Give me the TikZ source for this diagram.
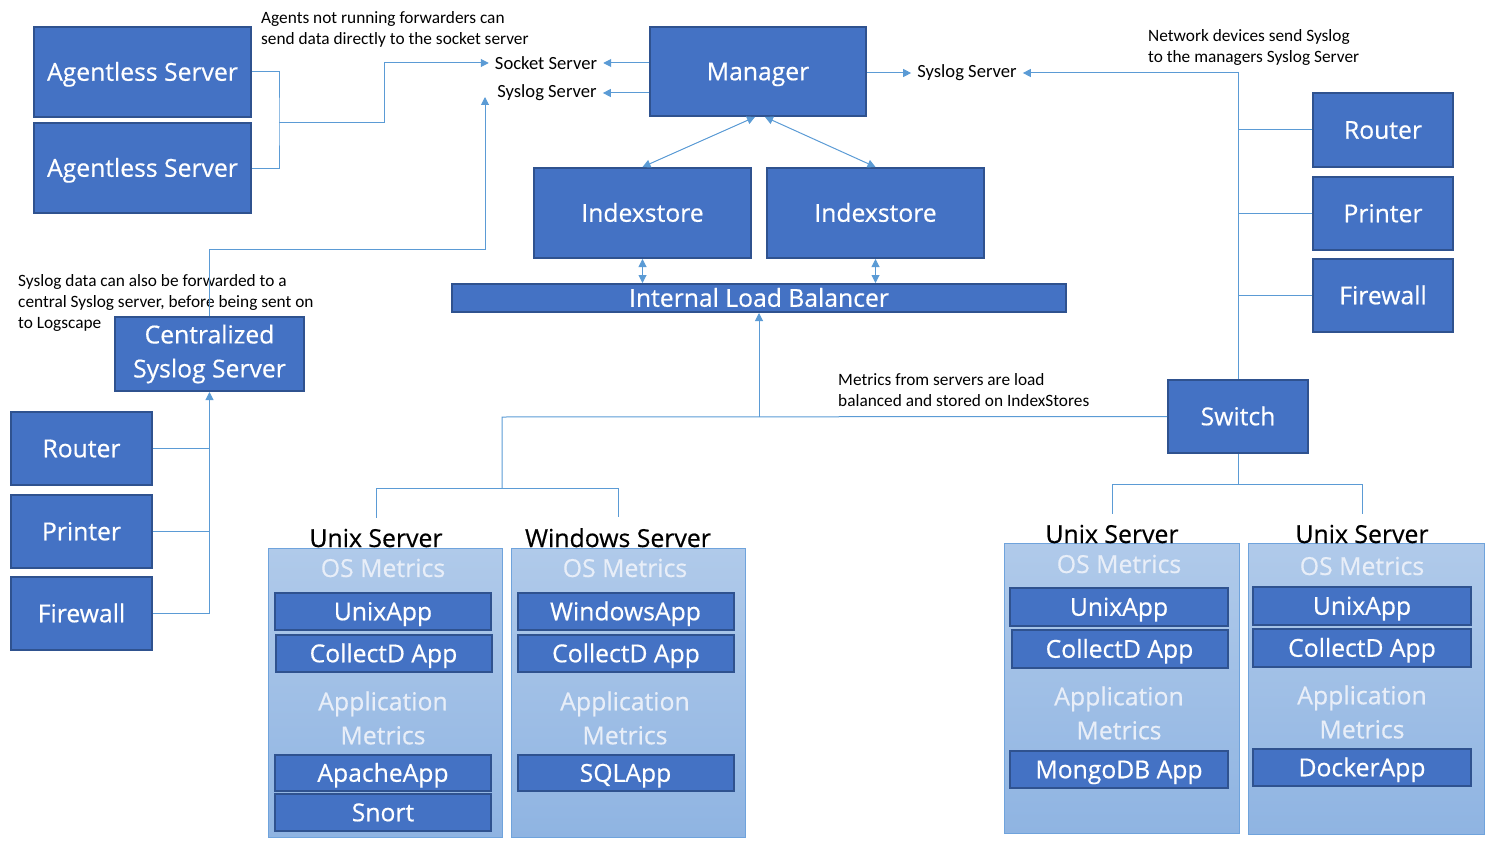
\documentclass[tikz,border=0pt]{standalone}
\usepackage{fontspec}
\setmainfont{Open Sans}
\newfontfamily\boxfont{Open Sans}[FakeBold=0.5]
\newfontfamily\notefont{Carlito}
\usetikzlibrary{arrows.meta}
\definecolor{boxfill}{HTML}{4472C4}
\definecolor{boxline}{HTML}{2F528F}
\definecolor{linkcol}{HTML}{5B9BD5}
\definecolor{paneltop}{HTML}{B0CAEA}
\definecolor{panelbot}{HTML}{8FB4E2}
\definecolor{panelline}{HTML}{6FA3DC}
\definecolor{softtext}{HTML}{E8EEF8}

\begin{document}
\begin{tikzpicture}[x=1pt,y=-1pt,
  boxbase/.style={draw=boxline,fill=boxfill,line width=2pt,text=white,
    font=\boxfont\fontsize{24.7}{34}\selectfont,inner sep=0pt},
  blk/.style={boxbase,text height=19pt,text depth=1.5pt},
  app/.style={blk,minimum width=216pt,minimum height=37pt},
  panel/.style={draw=panelline,line width=1pt,top color=paneltop,bottom color=panelbot},
  srvlabel/.style={anchor=base,font=\boxfont\fontsize{24.8}{30}\selectfont,inner sep=0pt},
  soft/.style={text=softtext,font=\boxfont\fontsize{24.8}{34}\selectfont,align=center,inner sep=0pt},
  note/.style={font=\notefont\fontsize{17.3}{21}\selectfont,align=left,anchor=west,inner sep=0pt},
  lbl/.style={font=\notefont\fontsize{18.6}{22}\selectfont,inner sep=6pt},
  link/.style={draw=linkcol,line width=1pt},
  arr/.style={link,-{Triangle[length=8pt,width=8pt]}},
  dbl/.style={link,{Triangle[length=8pt,width=8pt]}-{Triangle[length=8pt,width=8pt]}}]
\useasboundingbox (0,0) rectangle (1507,848);

\node[blk,minimum width=217pt,minimum height=90pt] (agent1) at (142.5,72) {Agentless Server};
\node[blk,minimum width=217pt,minimum height=90pt] (agent2) at (142.5,168) {Agentless Server};
\node[blk,minimum width=216pt,minimum height=89pt] (manager) at (758,71.5) {Manager};
\node[blk,minimum width=217pt,minimum height=90pt] (idx1) at (642.5,213) {Indexstore};
\node[blk,minimum width=217pt,minimum height=90pt] (idx2) at (875.5,213) {Indexstore};
\node[blk,minimum width=614pt,minimum height=28pt] (ilb) at (759,298) {Internal Load Balancer};
\node[blk,minimum width=140pt,minimum height=74pt] (rrouter) at (1383,130) {Router};
\node[blk,minimum width=140pt,minimum height=73pt] (rprinter) at (1383,213.5) {Printer};
\node[blk,minimum width=140pt,minimum height=73pt] (rfirewall) at (1383,295.5) {Firewall};
\node[blk,minimum width=140pt,minimum height=73pt] (switch) at (1238,416.5) {Switch};
\node[boxbase,minimum width=189pt,minimum height=74pt,align=center] (css) at (209.5,354) {Centralized\\Syslog Server};
\node[blk,minimum width=141pt,minimum height=73pt] (lrouter) at (81.5,448.5) {Router};
\node[blk,minimum width=141pt,minimum height=73pt] (lprinter) at (81.5,531.5) {Printer};
\node[blk,minimum width=141pt,minimum height=73pt] (lfirewall) at (81.5,613.5) {Firewall};

\node[lbl] (socket) at (546,63) {Socket Server};
\node[lbl] (syslogl) at (547,93) {Syslog Server};
\node[lbl] (syslogr) at (967,73) {Syslog Server};

\node[note] (agentnote) at (261,29) {Agents not running forwarders can\\send data directly to the socket server};
\node[note] (netnote) at (1148,47) {Network devices send Syslog\\to the managers Syslog Server};
\node[note] (sysnote) at (18,303) {Syslog data can also be forwarded to a\\central Syslog server, before being sent on\\to Logscape};
\node[note] (metricnote) at (838,390) {Metrics from servers are load\\balanced and stored on IndexStores};

\node[panel,minimum width=234pt,minimum height=289pt] (pan1) at (385,692.5) {};
\node[panel,minimum width=234pt,minimum height=289pt] (pan2) at (628,692.5) {};
\node[panel,minimum width=235pt,minimum height=290pt] (pan3) at (1121.5,688) {};
\node[panel,minimum width=236pt,minimum height=291pt] (pan4) at (1366,688.5) {};

\node[srvlabel] (u1lab) at (376,547) {Unix Server};
\node[srvlabel] (winlab) at (618,547) {Windows Server};
\node[srvlabel] (u3lab) at (1112,543) {Unix Server};
\node[srvlabel] (u4lab) at (1362,543) {Unix Server};

\node[soft] (os1) at (383,568) {OS Metrics};
\node[app] (unixapp1) at (383,611.5) {UnixApp};
\node[app] (collectd1) at (383.5,653.5) {CollectD App};
\node[soft] (am1) at (383,718) {Application\\Metrics};
\node[app,minimum height=36pt] (apache) at (383,773) {ApacheApp};
\node[app] (snort) at (383,812.5) {Snort};

\node[soft] (os2) at (625,568) {OS Metrics};
\node[app] (winapp) at (625.5,611.5) {WindowsApp};
\node[app] (collectd2) at (626,653.5) {CollectD App};
\node[soft] (am2) at (625,718) {Application\\Metrics};
\node[app,minimum height=36pt] (sqlapp) at (625.5,773) {SQLApp};

\node[soft] (os3) at (1119,564) {OS Metrics};
\node[app,minimum width=218pt,minimum height=38pt] (unixapp3) at (1119,607) {UnixApp};
\node[app,minimum height=38pt] (collectd3) at (1119.5,649) {CollectD App};
\node[soft] (am3) at (1119,713) {Application\\Metrics};
\node[app,minimum width=218pt] (mongo) at (1119,769.5) {MongoDB App};

\node[soft] (os4) at (1362,566) {OS Metrics};
\node[app,minimum width=218pt,minimum height=38pt] (unixapp4) at (1362,606) {UnixApp};
\node[app,minimum width=218pt,minimum height=38pt] (collectd4) at (1362,648) {CollectD App};
\node[soft] (am4) at (1362,712) {Application\\Metrics};
\node[app,minimum width=218pt] (docker) at (1362,767.5) {DockerApp};

\coordinate (agentjoin) at (279,123);
\coordinate (sysin) at (485,97);
\coordinate (lbus) at (502,417);
\coordinate (lfork) at (502,488);
\coordinate (rfork) at (1238,484);

\draw[link] (agent1.east) -| (agentjoin) |- (agent2.east);
\draw[arr] (agentjoin) -- ++(105,0) |- (socket.west);
\draw[arr] (manager.west |- socket) -- (socket.east);
\draw[arr] (manager.west |- syslogl) -- (syslogl.east);
\draw[arr] (manager.east |- syslogr) -- (syslogr.west);
\draw[arr] (switch.north) -- (switch.north |- syslogr) -- (syslogr.east);
\draw[link] (rrouter.west) -- (rrouter.west -| switch.north);
\draw[link] (rprinter.west) -- (rprinter.west -| switch.north);
\draw[link] (rfirewall.west) -- (rfirewall.west -| switch.north);
\draw[dbl] ([xshift=-3pt]manager.south) -- (idx1.north);
\draw[dbl] ([xshift=7pt]manager.south) -- (idx2.north);
\draw[dbl] (idx1.south) -- (idx1.south |- ilb.north);
\draw[dbl] (idx2.south) -- (idx2.south |- ilb.north);
\draw[link] (switch.west) -- (lbus) -- (lfork);
\draw[arr] (lbus -| ilb.south) -- (ilb.south);
\draw[link] ([yshift=11pt]u1lab.north) -- (u1lab.north |- lfork) -- (winlab.north |- lfork) -- ([yshift=11pt]winlab.north);
\draw[link] (switch.south) -- (rfork);
\draw[link] ([yshift=11pt]u3lab.north) -- (u3lab.north |- rfork) -- (u4lab.north |- rfork) -- ([yshift=11pt]u4lab.north);
\draw[arr] (css.north) -- ++(0,-67) -| (sysin);
\draw[link] (lrouter.east) -- (lrouter.east -| css.south);
\draw[link] (lprinter.east) -- (lprinter.east -| css.south);
\draw[arr] (lfirewall.east) -| (css.south);
\end{tikzpicture}
\end{document}
